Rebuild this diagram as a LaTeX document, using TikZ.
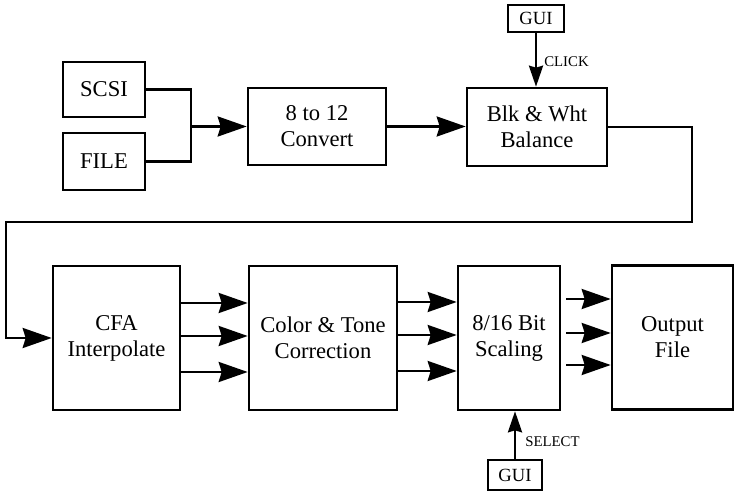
\documentclass[tikz,border=0pt]{standalone}
\usepackage{fontspec}
\setmainfont{Liberation Serif}
\usetikzlibrary{arrows.meta}

\begin{document}
\begin{tikzpicture}[
    x=0.5pt, y=-0.5pt,
    line join=miter,
    box/.style={draw, line width=1.3pt, inner sep=0pt, align=center,
                font=\fontsize{11.3}{13}\selectfont},
    guibox/.style={box, font=\fontsize{9.3}{11}\selectfont},
    wire/.style={line width=1.3pt},
    flow/.style={wire, -{Stealth[length=14.5pt, width=10pt, inset=1.5pt]}},
    flowsm/.style={wire, -{Stealth[length=10.5pt, width=7pt, inset=1pt]}},
    lbl/.style={font=\fontsize{7.4}{9}\selectfont, inner sep=0pt},
  ]
  \useasboundingbox (0,0) rectangle (735,492);

  % ---- top row ----------------------------------------------
  \node[box, minimum width=41pt, minimum height=27.5pt] (scsi) at (104,89.5)  {SCSI};
  \node[box, minimum width=41pt, minimum height=28.5pt] (file) at (104,161.5) {FILE};
  \node[box, minimum width=69pt, minimum height=38.5pt] (conv) at (317,126.5) {8 to 12\\Convert};
  \node[box, minimum width=70pt, minimum height=39pt]   (bwb)  at (537,127)   {Blk \& Wht\\Balance};
  \node[guibox, minimum width=28pt, minimum height=13.5pt] (guiA) at (536,18.5) {GUI};

  % ---- bottom row -------------------------------------------
  \node[box, minimum width=63.5pt, minimum height=72pt] (cfa)   at (116.5,338) {CFA\\Interpolate};
  \node[box, minimum width=74pt,   minimum height=72pt] (color) at (323,338)   {Color \& Tone\\Correction};
  \node[box, minimum width=51pt,   minimum height=72pt] (scale) at (509,338)   {8/16 Bit\\Scaling};
  \node[box, minimum width=60.5pt, minimum height=72pt] (out)   at (672.5,337.5) {Output\\File};
  \node[guibox, minimum width=27pt, minimum height=15pt] (guiB) at (515,475) {GUI};

  % ---- turning points ---------------------------------------
  \coordinate (merge) at (191,126.5);
  \coordinate (turnR) at (692,222);
  \coordinate (turnL) at (6,222);

  % ---- connectors -------------------------------------------
  \draw[wire] (scsi.east) -| (merge);
  \draw[wire] (file.east) -| (merge);
  \draw[flow] (merge) -- (conv.west);
  \draw[flow] (conv.east) -- (conv.east -| bwb.west);
  \draw[flowsm] (guiA.south) -- (guiA.south |- bwb.north)
    node[lbl, pos=0.54, anchor=west, xshift=3.5pt] {CLICK};
  \draw[flow] (bwb.east) -| (turnR) -- (turnL) |- (cfa.west);

  \foreach \y in {303,336,372}
    \draw[flow] (cfa.east |- 0,\y) -- (color.west |- 0,\y);
  \foreach \y in {302,335,371}
    \draw[flow] (color.east |- 0,\y) -- (scale.west |- 0,\y);
  \foreach \y in {299,333,365}
    \draw[flow] ([xshift=2.5pt]scale.east |- 0,\y) -- (out.west |- 0,\y);

  \draw[flowsm] (guiB.north) -- (guiB.north |- scale.south)
    node[lbl, pos=0.36, anchor=west, xshift=4.5pt] {SELECT};

\end{tikzpicture}
\end{document}
